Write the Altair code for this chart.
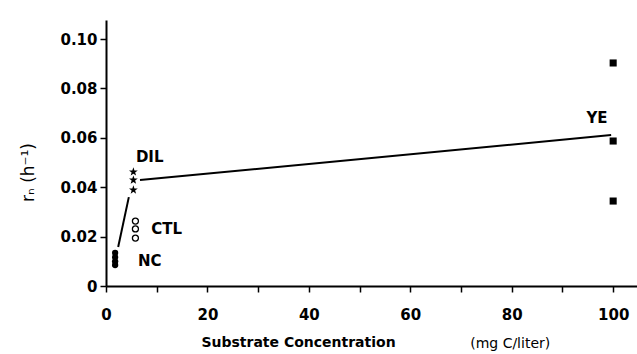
import altair as alt
import pandas as pd

# --- data ---
nc_x = [1.8, 1.8, 1.8, 1.8]
nc_y = [0.0085, 0.0100, 0.0117, 0.0134]
ctl_x = [5.8, 5.8, 5.8]
ctl_y = [0.0194, 0.0231, 0.0263]
dil_x = [5.4, 5.4, 5.4]
dil_y = [0.0389, 0.0429, 0.0462]
ye_x = [100, 100, 100]
ye_y = [0.0344, 0.0587, 0.0903]

seg1_x = [2.4, 4.5]
seg1_y = [0.0158, 0.0360]
seg2_x = [6.7, 99.6]
seg2_y = [0.0429, 0.0611]

label_text = ["DIL", "CTL", "NC"]
label_x = [5.9, 8.9, 6.3]
label_y = [0.0522, 0.0231, 0.0101]
ye_label_x = [96.8]
ye_label_y = [0.0680]

x_ticks = [0, 10, 20, 30, 40, 50, 60, 70, 80, 90, 100]
y_ticks = [0, 0.02, 0.04, 0.06, 0.08, 0.10]

FONT = "DejaVu Sans"
W, H = 531, 266

xs = alt.Scale(domain=[0, 104.7], nice=False, zero=False)
ys = alt.Scale(domain=[0, 0.1077], nice=False)

x_axis = alt.Axis(
    values=x_ticks,
    labelExpr="datum.value % 20 == 0 ? datum.label : ''",
    title="Substrate Concentration",
    titleFont=FONT, titleFontWeight="bold", titleFontSize=14, titleColor="black",
    titleX=192, titleY=56, titleBaseline="middle", titleAlign="center",
    labelFont=FONT, labelFontWeight="bold", labelFontSize=15, labelColor="black",
    labelPadding=15, tickSize=6, tickColor="black", tickWidth=1.5,
    domainColor="black", domainWidth=2, grid=False, labelFlush=False,
)
y_axis = alt.Axis(
    values=y_ticks,
    labelExpr="datum.value == 0 ? '0' : format(datum.value, '.2f')",
    title="rₙ  (h⁻¹)",
    titleFont=FONT, titleFontWeight="normal", titleFontSize=17, titleColor="black",
    titleX=-78, titleY=152, titleAngle=270, titleBaseline="middle", titleAlign="center",
    labelFont=FONT, labelFontWeight="bold", labelFontSize=15, labelColor="black",
    labelPadding=3, tickSize=6, tickColor="black", tickWidth=1.5,
    domainColor="black", domainWidth=2, grid=False,
)

star = ("M0,-1L0.235,-0.324L0.951,-0.309L0.38,0.124L0.588,0.809L0,0.4"
        "L-0.588,0.809L-0.38,0.124L-0.951,-0.309L-0.235,-0.324Z")

nc = pd.DataFrame({"x": nc_x, "y": nc_y})
ctl = pd.DataFrame({"x": ctl_x, "y": ctl_y})
dil = pd.DataFrame({"x": dil_x, "y": dil_y})
ye = pd.DataFrame({"x": ye_x, "y": ye_y})
segs = pd.DataFrame({"x": seg1_x + seg2_x, "y": seg1_y + seg2_y,
                     "seg": ["a", "a", "b", "b"]})
labels = pd.DataFrame({"x": label_x, "y": label_y, "t": label_text})
ye_lab = pd.DataFrame({"x": ye_label_x, "y": ye_label_y, "t": ["YE"]})
unit = pd.DataFrame({"x": [79.7], "t": ["(mg C/liter)"]})

X = alt.X("x:Q", scale=xs, axis=x_axis)
Y = alt.Y("y:Q", scale=ys, axis=y_axis)

lines = alt.Chart(segs).mark_line(color="black", strokeWidth=2).encode(
    x=X, y=Y, detail="seg:N")
p_nc = alt.Chart(nc).mark_point(shape="circle", filled=True, color="black", size=40, opacity=1).encode(
    x=alt.X("x:Q", scale=xs), y=alt.Y("y:Q", scale=ys))
p_ctl = alt.Chart(ctl).mark_point(shape="circle", filled=False, color="black", size=36,
                                  strokeWidth=1.3, opacity=1).encode(
    x=alt.X("x:Q", scale=xs), y=alt.Y("y:Q", scale=ys))
p_dil = alt.Chart(dil).mark_point(shape=star, filled=True, color="black", size=85, opacity=1).encode(
    x=alt.X("x:Q", scale=xs), y=alt.Y("y:Q", scale=ys))
p_ye = alt.Chart(ye).mark_point(shape="square", filled=True, color="black", size=50, opacity=1).encode(
    x=alt.X("x:Q", scale=xs), y=alt.Y("y:Q", scale=ys))

t_lab = alt.Chart(labels).mark_text(font=FONT, fontWeight="bold", fontSize=15, color="black",
                                    align="left", baseline="middle").encode(
    x=alt.X("x:Q", scale=xs), y=alt.Y("y:Q", scale=ys), text="t:N")
t_ye = alt.Chart(ye_lab).mark_text(font=FONT, fontWeight="bold", fontSize=15, color="black",
                                   align="center", baseline="middle").encode(
    x=alt.X("x:Q", scale=xs), y=alt.Y("y:Q", scale=ys), text="t:N")
t_unit = alt.Chart(unit).mark_text(font=FONT, fontSize=14, color="black",
                                   align="center", baseline="middle").encode(
    x=alt.X("x:Q", scale=xs), y=alt.value(H + 58), text="t:N")

chart = alt.layer(lines, p_nc, p_ctl, p_dil, p_ye, t_lab, t_ye, t_unit).properties(
    width=W, height=H,
    autosize=alt.AutoSizeParams(type="none"),
    padding={"left": 106, "top": 20, "right": 0, "bottom": 68},
    background="white",
).configure_view(stroke=None)

chart.save("out.html", embed_options={"renderer": "svg", "actions": False})
